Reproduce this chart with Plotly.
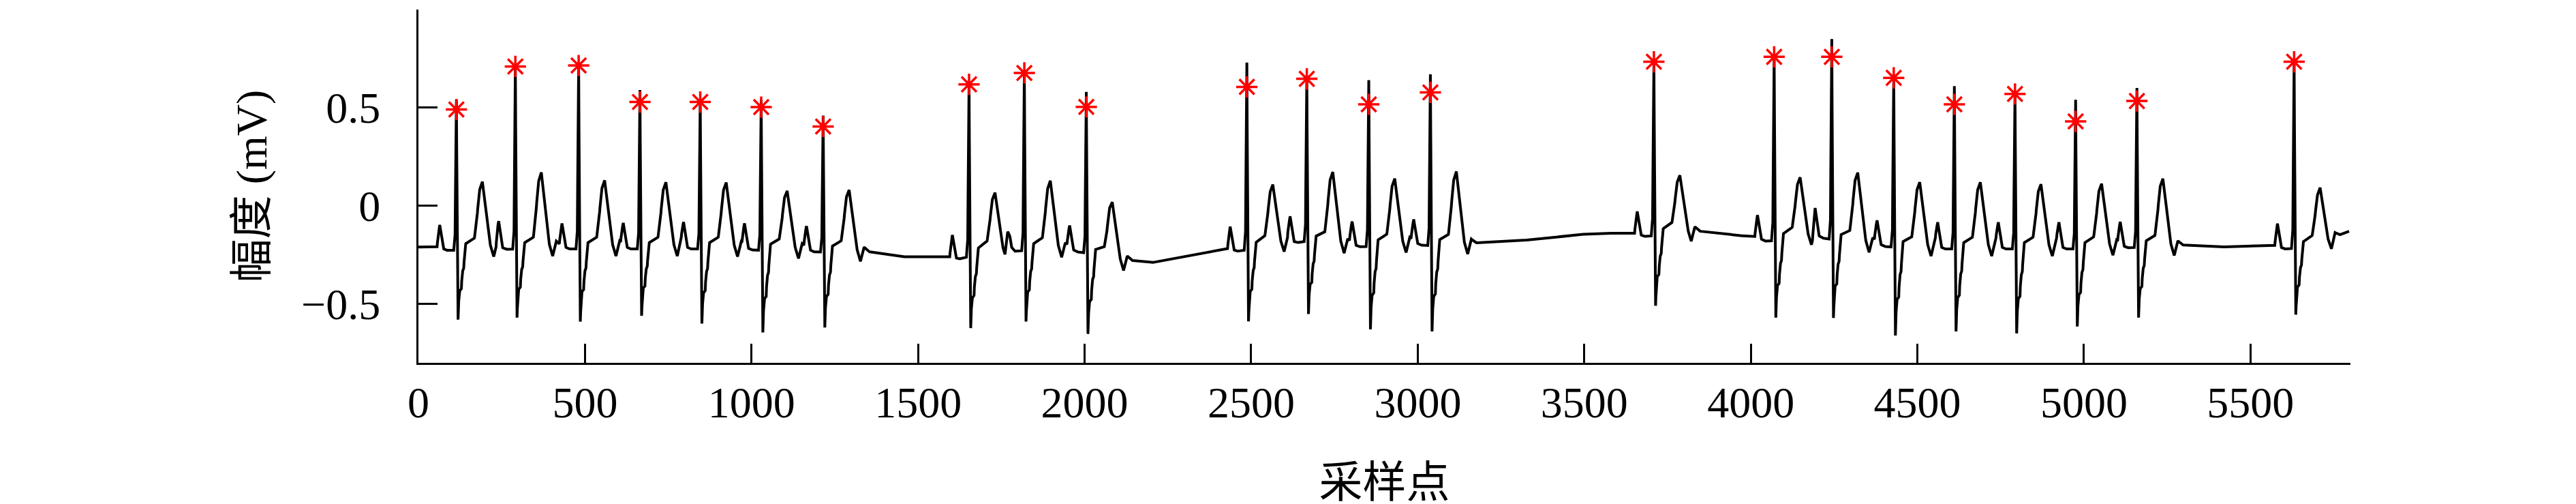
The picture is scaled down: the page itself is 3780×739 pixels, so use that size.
import numpy as np
import plotly.graph_objects as go

# R-peak sample index of each beat
r_pos = [114, 291, 481, 665, 846, 1029, 1215, 1653, 1819, 2005, 2487, 2667,
         2853, 3038, 3709, 4070, 4243, 4429, 4611, 4793, 4975, 5159, 5631]
# detected R amplitude (red asterisks), mV
r_mark = [0.491, 0.710, 0.715, 0.529, 0.529, 0.503, 0.404, 0.619, 0.677, 0.504,
          0.606, 0.647, 0.517, 0.578, 0.734, 0.759, 0.759, 0.652, 0.517, 0.570,
          0.430, 0.534, 0.734]
# top of the R spike in the trace, mV
r_peak = [0.54, 0.72, 0.72, 0.59, 0.54, 0.54, 0.46, 0.63, 0.69, 0.58,
          0.73, 0.66, 0.64, 0.67, 0.74, 0.77, 0.85, 0.66, 0.61, 0.58,
          0.54, 0.60, 0.74]
# S trough, mV
s_amp = [-0.58, -0.57, -0.59, -0.56, -0.60, -0.645, -0.62, -0.625, -0.59, -0.65,
         -0.59, -0.55, -0.63, -0.64, -0.51, -0.57, -0.57, -0.66, -0.64, -0.65,
         -0.615, -0.57, -0.555]
# T-wave peak, mV
t_amp = [0.12, 0.17, 0.13, 0.12, 0.12, 0.08, 0.085, 0.045, 0.12, 0.06,
         0.09, 0.19, 0.135, 0.18, 0.145, 0.135, 0.19, 0.13, 0.12, 0.11,
         0.11, 0.14, 0.08]
# baseline wander
base_x = [0, 300, 600, 900, 1100, 1300, 1450, 1600, 1700, 1900, 2005, 2100, 2200,
          2300, 2420, 2550, 2667, 2800, 3000, 3150, 3300, 3450, 3550, 3650, 3800,
          3950, 4050, 4200, 4350, 4500, 4700, 5000, 5200, 5400, 5600, 5700, 5796]
base_y = [-0.21, -0.20, -0.20, -0.20, -0.21, -0.22, -0.26, -0.26, -0.22, -0.20,
          -0.22, -0.27, -0.29, -0.26, -0.22, -0.19, -0.16, -0.19, -0.18, -0.19,
          -0.18, -0.15, -0.14, -0.14, -0.12, -0.15, -0.16, -0.14, -0.18, -0.20,
          -0.20, -0.20, -0.19, -0.21, -0.20, -0.19, -0.13]

p_off = [-66, -58, -55, -50, -45, -40, -30, -8]
p_val = [0.0, 0.0, 0.06, 0.11, 0.06, -0.01, -0.02, -0.02]
qrs_off = [-4, -2, 0, 2, 4, 5, 8, 15, 17, 22, 26, 44, 54]
qrs_r = [0.08, 0.6, 1.0, 0.3, 0.0, 0.0, 0.0, 0.0, 0.0, 0.0, 0.0, 0.0, 0.0]
qrs_s = [0.0, 0.0, 0.0, 0.0, 0.7, 1.0, 0.62, 0.58, 0.36, 0.3, 0.0, 0.0, 0.0]
qrs_c = [0.0, 0.0, 0.0, 0.0, 0.0, 0.0, 0.0, 0.0, 0.0, 0.0, 0.01, 0.03, 0.04]
t_off = [61, 68, 78, 85, 93, 99, 112, 123, 136]
t_frac = [0.38, 0.85, 1.0, 0.7, 0.38, 0.06, 0.0, 0.0, 0.0]
t_extra = [0.0, 0.0, 0.0, 0.0, 0.0, 0.0, -0.056, 0.02, 0.0]

n = np.arange(5797)
base = np.interp(n, base_x, base_y)
rel = np.zeros(len(n))
for i, r in enumerate(r_pos):
    b = np.interp(r, base_x, base_y)
    offs = p_off + qrs_off + t_off
    vals = (p_val
            + [qrs_r[k] * (r_peak[i] - b) + qrs_s[k] * (s_amp[i] - b) + qrs_c[k]
               for k in range(len(qrs_off))]
            + [t_frac[k] * (t_amp[i] - b) + t_extra[k] for k in range(len(t_off))])
    rel += np.interp(n, np.array(offs) + r, vals, left=0.0, right=0.0)
ecg = base + rel

fig = go.Figure()
fig.add_trace(go.Scatter(x=n, y=ecg, mode='lines',
                         line=dict(color='black', width=4)))
fig.add_trace(go.Scatter(x=r_pos, y=r_mark, mode='markers',
                         marker=dict(symbol='asterisk-open', size=26, color='red',
                                     line=dict(color='red', width=3.5))))

serif = 'Liberation Serif, Noto Sans CJK SC'
axis_style = dict(showline=True, linewidth=3, linecolor='black', mirror=False,
                  showgrid=False, zeroline=False, ticks='inside', ticklen=28,
                  tickwidth=3, tickcolor='black',
                  tickfont=dict(family=serif, size=64, color='black'))

fig.update_layout(
    width=3780, height=739,
    margin=dict(l=606, r=339, t=6, b=215),
    plot_bgcolor='white', paper_bgcolor='white',
    showlegend=False,
    xaxis=dict(range=[0, 5800], tickvals=list(range(0, 5501, 500)),
               ticklabelstandoff=0,
               title=dict(text='采样点', standoff=60,
                          font=dict(family=serif, size=64, color='black')),
               **axis_style),
    yaxis=dict(range=[-0.8, 1.0], tickvals=[-0.5, 0, 0.5],
               ticktext=['\u22120.5', '0', '0.5'], ticklabelstandoff=40,
               title=dict(text='幅度 (mV)', standoff=30,
                          font=dict(family=serif, size=64, color='black')),
               **axis_style),
)

fig.write_html("out.html")
